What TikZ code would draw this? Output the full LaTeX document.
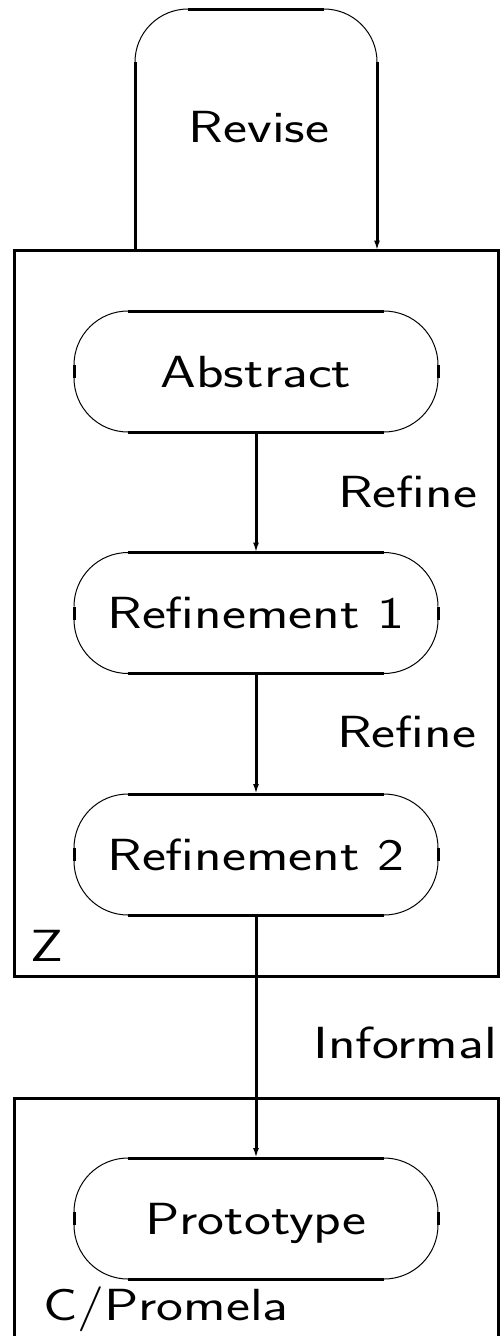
\documentclass[tikz,border=0pt]{standalone}
\usepackage{graphicx}
\usetikzlibrary{arrows.meta}

% horizontally widened label text
\newcommand\wide[1]{\scalebox{1.27}[1]{#1}}

% outline of a pill-shaped box: heavy straight parts, hairline corners
\newcommand\pillframe[1]{%
  \draw[heavy] ([xshift=54pt]#1.north west) -- ([xshift=-54pt]#1.north east);
  \draw[heavy] ([xshift=54pt]#1.south west) -- ([xshift=-54pt]#1.south east);
  \draw[heavy] ([yshift=-54pt]#1.north west) -- ([yshift=54pt]#1.south west);
  \draw[heavy] ([yshift=-54pt]#1.north east) -- ([yshift=54pt]#1.south east);
  \draw[hair] ([xshift=-54pt]#1.north east) arc[start angle=90,end angle=0,radius=54pt];
  \draw[hair] ([yshift=54pt]#1.south east) arc[start angle=0,end angle=-90,radius=54pt];
  \draw[hair] ([xshift=54pt]#1.south west) arc[start angle=270,end angle=180,radius=54pt];
  \draw[hair] ([yshift=-54pt]#1.north west) arc[start angle=180,end angle=90,radius=54pt];
}

\tikzset{
  x=1pt, y=1pt,
  heavy/.style={line width=3pt},
  hair/.style={line width=1pt},
  frame/.style={draw, line width=3pt, inner sep=0pt, outer sep=0pt},
  txt/.style={font=\sffamily\fontsize{45}{52}\selectfont, inner sep=0pt, outer sep=0pt},
  pill/.style={txt, minimum width=364pt, minimum height=121pt,
               text height=31pt, text depth=0pt},
  flow/.style={heavy, -{Latex[length=10pt,width=6pt]}},
}

\begin{document}
\begin{tikzpicture}
\useasboundingbox (0,0) rectangle (500,-1336);

% Z specification frame
\node[frame, minimum width=484.5pt, minimum height=725.5pt] (zbox) at (256.25,-613.25) {};

% implementation frame, open at the bottom
\draw[heavy] (14,-1340) -- (14,-1098) -- (498.5,-1098) -- (498.5,-1340);

% stages
\node[pill] (abs)   at (256,-371.5)  {\wide{Abstract}};
\node[pill] (ref1)  at (256,-613)    {\wide{Refinement 1}};
\node[pill] (ref2)  at (256,-854.5)  {\wide{Refinement 2}};
\node[pill] (proto) at (256,-1218.5) {\wide{Prototype}};
\pillframe{abs}
\pillframe{ref1}
\pillframe{ref2}
\pillframe{proto}

% flow between stages
\draw[flow] (abs.south) -- (ref1.north);
\draw[flow] (ref1.south) -- (ref2.north);
\draw[flow] (ref2.south) -- (proto.north);

% edge labels and frame labels
\node[txt, anchor=base east] (lr1)  at (477,-507)  {\wide{Refine}};
\node[txt, anchor=base east] (lr2)  at (476,-747)  {\wide{Refine}};
\node[txt, anchor=base east] (linf) at (497,-1058) {\wide{Informal}};
\node[txt, anchor=base west] (lz)   at (30,-961)   {\wide{Z}};
\node[txt, anchor=base west] (lc)   at (43,-1320)  {\wide{C/Promela}};

% revision loop on top of the Z frame
\node[txt, anchor=base] (rev) at (259,-142) {\wide{Revise}};
\coordinate (loopout) at (135,-250.5);
\coordinate (loopin)  at (377,-250.5);
\draw[heavy] (loopout) -- (135,-62);
\draw[hair]  (135,-62) arc[start angle=180,end angle=90,radius=53pt];
\draw[heavy] (188,-9) -- (324,-9);
\draw[hair]  (324,-9) arc[start angle=90,end angle=0,radius=53pt];
\draw[flow]  (377,-62) -- (loopin);
\end{tikzpicture}
\end{document}
